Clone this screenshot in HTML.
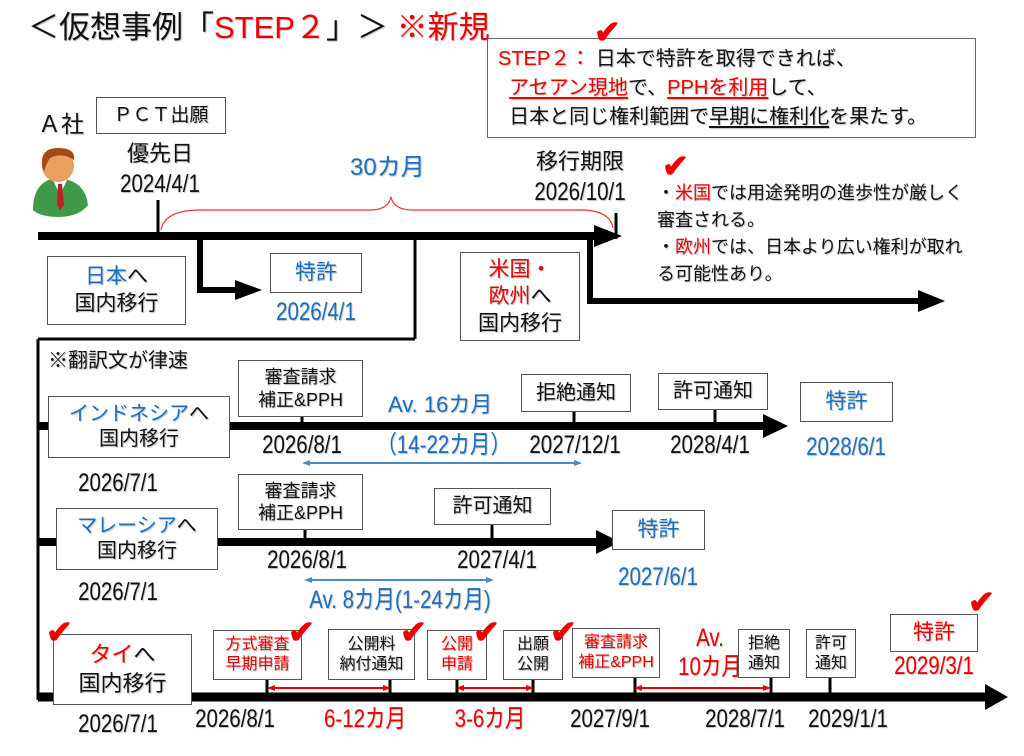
<!DOCTYPE html>
<html><head><meta charset="utf-8">
<style>
*{margin:0;padding:0;box-sizing:border-box}
body{width:1024px;height:756px;background:#fff;position:relative;overflow:hidden;font-family:"Liberation Sans","Noto Sans CJK JP",sans-serif;color:#111;text-shadow:1px 1px 1px rgba(0,0,0,.25)}
.a{position:absolute;white-space:nowrap;line-height:1}
.bx{position:absolute;border:1.5px solid #555;background:#fff;text-align:center;display:flex;flex-direction:column;justify-content:center;align-items:center;line-height:1.25}
.c{text-align:center}
.r{color:#e00}
.b{color:#1a6fc0}
.d{font-size:25px;transform:scaleX(.82);transform-origin:center}
.ck{position:absolute;color:#e00;font-size:32px;font-weight:bold;line-height:1;text-shadow:none}
u{text-decoration-thickness:1.5px;text-underline-offset:3px}
</style></head><body>
<svg width="1024" height="756" style="position:absolute;left:0;top:0">
<defs>
<marker id="ra" markerWidth="8" markerHeight="8" refX="4" refY="4" orient="auto-start-reverse" markerUnits="userSpaceOnUse"><path d="M0,1 L8,4 L0,7z" fill="#e00"/></marker>
<marker id="ba" markerWidth="8" markerHeight="8" refX="4" refY="4" orient="auto-start-reverse" markerUnits="userSpaceOnUse"><path d="M0,1 L8,4 L0,7z" fill="#4a8ac8"/></marker>
</defs>
<g stroke="#000" fill="none">
<line x1="38" y1="236" x2="598" y2="236" stroke-width="8"/>
<line x1="158" y1="200" x2="158" y2="236" stroke-width="3"/>
<line x1="616" y1="213" x2="616" y2="239" stroke-width="3"/>
<polyline points="200,236 200,290 240,290" stroke-width="6"/>
<line x1="415" y1="236" x2="415" y2="339" stroke-width="3"/>
<line x1="38" y1="339" x2="415" y2="339" stroke-width="3"/>
<line x1="38" y1="339" x2="38" y2="700" stroke-width="3"/>
<polyline points="590,236 590,301 920,301" stroke-width="6"/>
<line x1="38" y1="426" x2="770" y2="426" stroke-width="8"/>
<line x1="302" y1="417" x2="302" y2="426" stroke-width="3"/>
<line x1="574" y1="412" x2="574" y2="426" stroke-width="3"/>
<line x1="715" y1="410" x2="715" y2="426" stroke-width="3"/>
<line x1="38" y1="542" x2="600" y2="542" stroke-width="8"/>
<line x1="305" y1="530" x2="305" y2="542" stroke-width="3"/>
<line x1="492" y1="525" x2="492" y2="542" stroke-width="3"/>
<line x1="38" y1="697" x2="988" y2="697" stroke-width="9"/>
<line x1="267" y1="680" x2="267" y2="697" stroke-width="3"/>
<line x1="390" y1="680" x2="390" y2="697" stroke-width="3"/>
<line x1="457" y1="680" x2="457" y2="697" stroke-width="3"/>
<line x1="533" y1="680" x2="533" y2="697" stroke-width="3"/>
<line x1="635" y1="678" x2="635" y2="697" stroke-width="3"/>
<line x1="771" y1="678" x2="771" y2="697" stroke-width="3"/>
<line x1="830" y1="678" x2="830" y2="697" stroke-width="3"/>
</g>
<g fill="#000">
<path d="M594,225 L622,236 L594,247z"/>
<path d="M235,280 L262,290 L235,300z"/>
<path d="M918,290 L945,301 L918,312z"/>
<path d="M763,414 L788,426 L763,438z"/>
<path d="M596,530 L620,542 L596,554z"/>
<path d="M985,684 L1008,697 L985,710z"/>
</g>
<path d="M161,230 Q165,210 200,210 L370,210 Q388,210 391,197 Q394,210 412,210 L580,210 Q610,210 613,228" stroke="#e33" stroke-width="1.2" fill="none"/>
<line x1="306" y1="463" x2="578" y2="463" stroke="#4a8ac8" stroke-width="2" marker-start="url(#ba)" marker-end="url(#ba)"/>
<line x1="308" y1="580" x2="490" y2="580" stroke="#4a8ac8" stroke-width="2" marker-start="url(#ba)" marker-end="url(#ba)"/>
<line x1="271" y1="688" x2="387" y2="688" stroke="#e00" stroke-width="2" marker-start="url(#ra)" marker-end="url(#ra)"/>
<line x1="460" y1="688" x2="530" y2="688" stroke="#e00" stroke-width="2" marker-start="url(#ra)" marker-end="url(#ra)"/>
<line x1="638" y1="688" x2="767" y2="688" stroke="#e00" stroke-width="2" marker-start="url(#ra)" marker-end="url(#ra)"/>
<path d="M33,210 Q33,180 58,178 Q85,180 88,205 Q80,216 60,217 Q40,217 33,210z" fill="#3f9a4a"/>
<path d="M53,180 L60,195 L67,180z" fill="#fff"/>
<path d="M58,184 L62,184 L64,205 L60,210 L57,205z" fill="#b22"/>
<circle cx="58" cy="166" r="16" fill="#e8a060"/>
<path d="M42,166 Q40,148 58,148 Q76,148 74,160 Q62,152 50,158 Q46,164 44,172z" fill="#a54a14"/>
</svg>

<div class="a" style="left:28px;top:12px;font-size:31px">＜仮想事例「<span class="r">STEP２</span>」＞ <span class="r">※新規</span></div>

<div class="bx" style="left:487px;top:38px;width:489px;height:100px;align-items:flex-start;padding-left:10px;font-size:20px;line-height:1.45;border-color:#666">
<div><span class="r">STEP２：</span> 日本で特許を取得できれば、</div>
<div>&nbsp;&nbsp;<u class="r">アセアン現地</u>で、<u class="r">PPHを利用</u>して、</div>
<div>&nbsp;&nbsp;日本と同じ権利範囲で<u>早期に権利化</u>を果たす。</div>
</div>

<div class="a" style="left:38px;top:113px;font-size:23px">Ａ社</div>
<div class="bx" style="left:96px;top:97px;width:130px;height:37px;font-size:19px">ＰＣＴ出願</div>
<div class="a c" style="left:110px;top:143px;width:100px;font-size:22px">優先日</div>
<div class="a c d" style="left:100px;top:172px;width:120px">2024/4/1</div>
<div class="a b" style="left:350px;top:156px;font-size:24px">30カ月</div>
<div class="a c" style="left:520px;top:151px;width:120px;font-size:22px">移行期限</div>
<div class="a c d" style="left:520px;top:180px;width:120px">2026/10/1</div>

<div class="a" style="left:657px;top:180px;font-size:18px;line-height:27px">・<span class="r">米国</span>では用途発明の進歩性が厳しく<br>審査される。<br>・<span class="r">欧州</span>では、日本より広い権利が取れ<br>る可能性あり。</div>

<div class="bx" style="left:47px;top:256px;width:139px;height:69px;font-size:21px"><div><span class="b">日本</span>へ</div><div>国内移行</div></div>
<div class="bx" style="left:270px;top:253px;width:92px;height:40px;font-size:21px;color:#1a6fc0">特許</div>
<div class="a c d b" style="left:256px;top:300px;width:120px">2026/4/1</div>
<div class="bx" style="left:460px;top:252px;width:120px;height:89px;font-size:21px;line-height:1.3"><div class="r">米国・</div><div><span class="r">欧州</span>へ</div><div>国内移行</div></div>

<div class="a" style="left:48px;top:351px;font-size:20px">※翻訳文が律速</div>

<div class="bx" style="left:48px;top:396px;width:182px;height:62px;font-size:20px"><div><span class="b">インドネシア</span>へ</div><div>国内移行</div></div>
<div class="bx" style="left:238px;top:360px;width:125px;height:57px;font-size:18px"><div>審査請求</div><div>補正&amp;PPH</div></div>
<div class="a b" style="left:388px;top:394px;font-size:22px">Av. 16カ月</div>
<div class="bx" style="left:521px;top:374px;width:110px;height:38px;font-size:20px">拒絶通知</div>
<div class="bx" style="left:658px;top:373px;width:110px;height:37px;font-size:20px">許可通知</div>
<div class="bx" style="left:800px;top:382px;width:93px;height:40px;font-size:21px;color:#1a6fc0">特許</div>
<div class="a c d" style="left:242px;top:433px;width:120px">2026/8/1</div>
<div class="a c d b" style="left:362px;top:433px;width:160px">（14-22カ月）</div>
<div class="a c d" style="left:515px;top:433px;width:120px">2027/12/1</div>
<div class="a c d" style="left:650px;top:433px;width:120px">2028/4/1</div>
<div class="a c d b" style="left:786px;top:435px;width:120px">2028/6/1</div>
<div class="a c d" style="left:58px;top:471px;width:120px">2026/7/1</div>

<div class="bx" style="left:56px;top:508px;width:162px;height:62px;font-size:20px"><div><span class="b">マレーシア</span>へ</div><div>国内移行</div></div>
<div class="bx" style="left:238px;top:474px;width:125px;height:56px;font-size:18px"><div>審査請求</div><div>補正&amp;PPH</div></div>
<div class="bx" style="left:434px;top:488px;width:117px;height:37px;font-size:20px">許可通知</div>
<div class="bx" style="left:612px;top:510px;width:93px;height:40px;font-size:21px;color:#1a6fc0">特許</div>
<div class="a c d" style="left:247px;top:548px;width:120px">2026/8/1</div>
<div class="a c d" style="left:437px;top:548px;width:120px">2027/4/1</div>
<div class="a c d b" style="left:598px;top:565px;width:120px">2027/6/1</div>
<div class="a c d b" style="left:245px;top:588px;width:310px">Av. 8カ月(1-24カ月)</div>
<div class="a c d" style="left:58px;top:580px;width:120px">2026/7/1</div>

<div class="bx" style="left:53px;top:634px;width:139px;height:71px;font-size:22px;line-height:1.3"><div><span class="r">タイ</span>へ</div><div>国内移行</div></div>
<div class="bx r" style="left:213px;top:630px;width:89px;height:50px;font-size:16px"><div>方式審査</div><div>早期申請</div></div>
<div class="bx" style="left:328px;top:629px;width:87px;height:51px;font-size:16px"><div>公開料</div><div>納付通知</div></div>
<div class="bx r" style="left:427px;top:630px;width:60px;height:50px;font-size:16px"><div>公開</div><div>申請</div></div>
<div class="bx" style="left:503px;top:630px;width:60px;height:50px;font-size:16px"><div>出願</div><div>公開</div></div>
<div class="bx r" style="left:572px;top:628px;width:88px;height:50px;font-size:16px"><div>審査請求</div><div>補正&amp;PPH</div></div>
<div class="a c r" style="left:665px;top:624px;width:90px;font-size:25px;line-height:1.15;transform:scaleX(.82)">Av.<br>10カ月</div>
<div class="bx" style="left:738px;top:629px;width:52px;height:49px;font-size:16px"><div>拒絶</div><div>通知</div></div>
<div class="bx" style="left:806px;top:629px;width:50px;height:49px;font-size:16px"><div>許可</div><div>通知</div></div>
<div class="bx r" style="left:890px;top:614px;width:88px;height:38px;font-size:21px">特許</div>
<div class="a c d r" style="left:874px;top:654px;width:120px">2029/3/1</div>
<div class="a c d" style="left:180px;top:707px;width:110px">2026/8/1</div>
<div class="a c d r" style="left:310px;top:707px;width:110px">6-12カ月</div>
<div class="a c d r" style="left:435px;top:707px;width:110px">3-6カ月</div>
<div class="a c d" style="left:555px;top:707px;width:110px">2027/9/1</div>
<div class="a c d" style="left:690px;top:707px;width:110px">2028/7/1</div>
<div class="a c d" style="left:793px;top:707px;width:110px">2029/1/1</div>
<div class="a c d" style="left:58px;top:712px;width:120px">2026/7/1</div>

<div class="ck" style="left:594px;top:16px">✔</div>
<div class="ck" style="left:662px;top:150px">✔</div>
<div class="ck" style="left:46px;top:616px">✔</div>
<div class="ck" style="left:288px;top:616px">✔</div>
<div class="ck" style="left:400px;top:616px">✔</div>
<div class="ck" style="left:473px;top:616px">✔</div>
<div class="ck" style="left:550px;top:616px">✔</div>
<div class="ck" style="left:968px;top:586px">✔</div>
</body></html>
